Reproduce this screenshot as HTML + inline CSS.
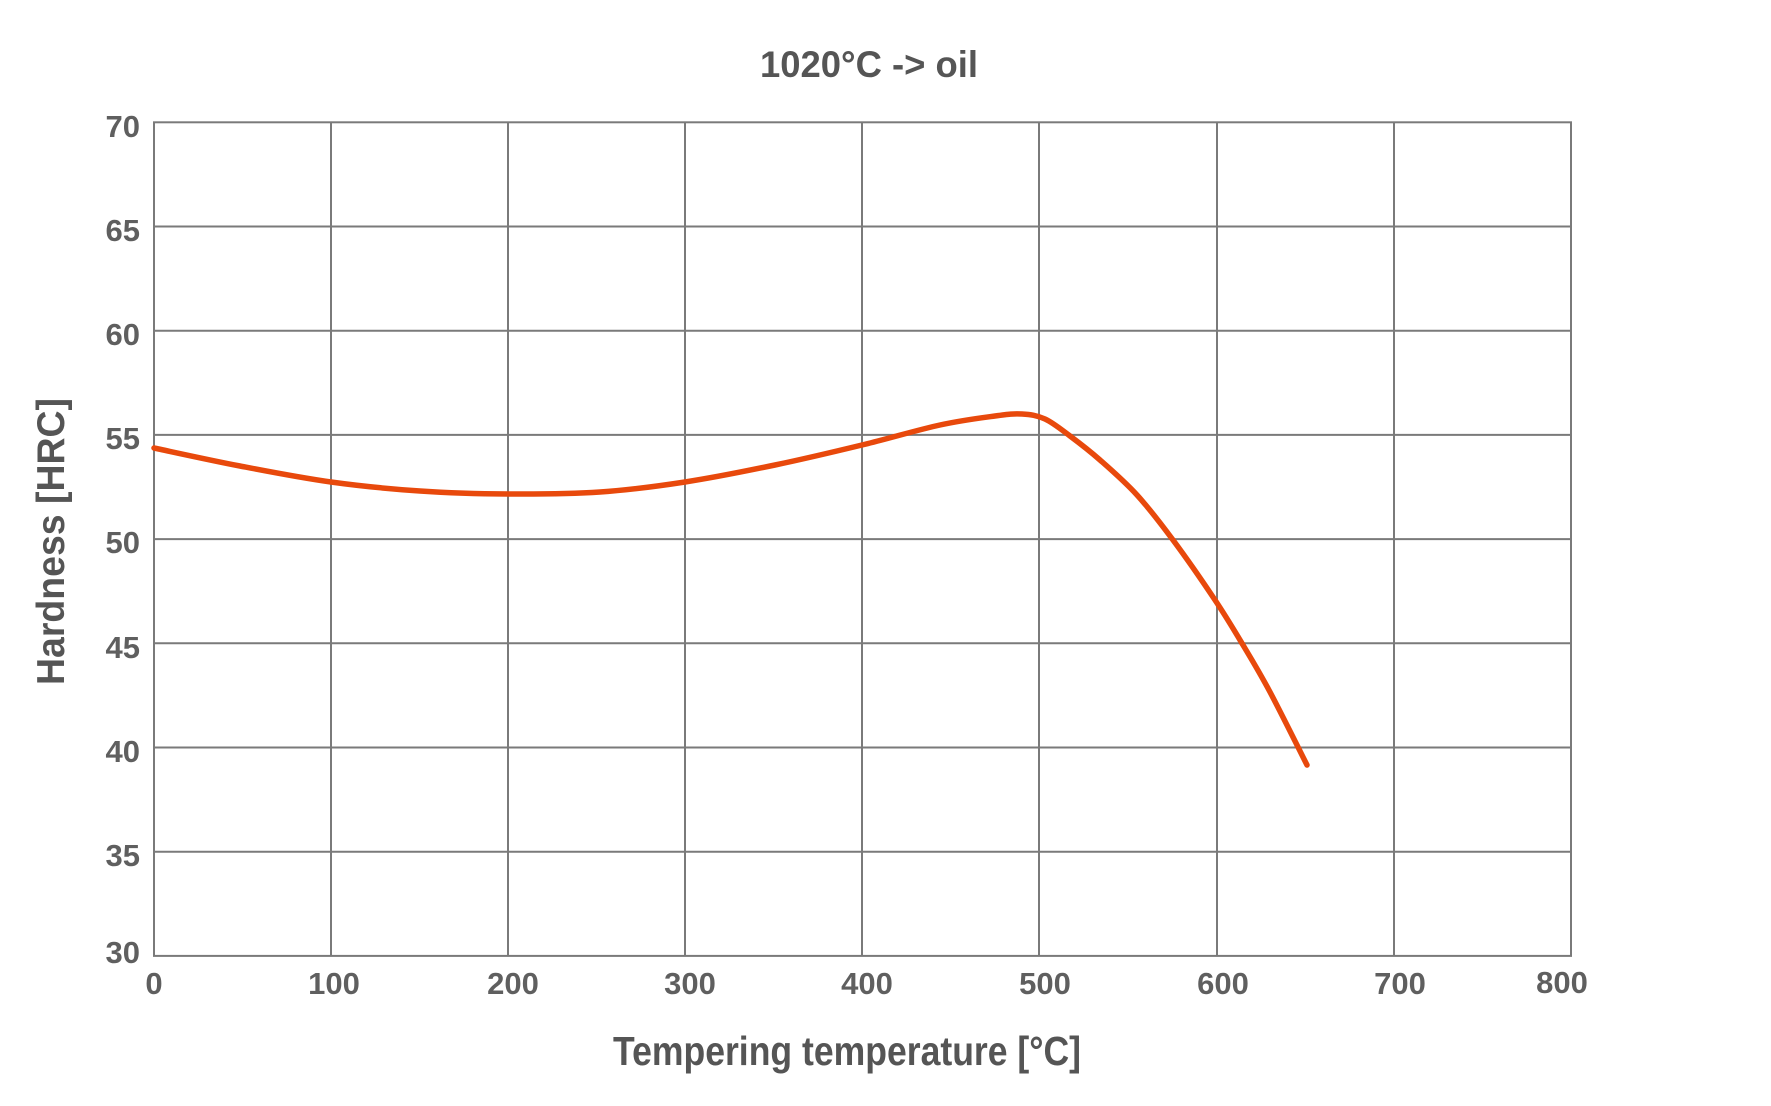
<!DOCTYPE html>
<html><head><meta charset="utf-8"><style>
html,body{margin:0;padding:0;background:#fff;}
svg{display:block}
text{font-family:"Liberation Sans",sans-serif;}
</style></head><body>
<svg width="1771" height="1106" viewBox="0 0 1771 1106" xmlns="http://www.w3.org/2000/svg">
<g stroke="#7a7a7a" stroke-width="2" fill="none">
<line x1="331" y1="122" x2="331" y2="956"/><line x1="508" y1="122" x2="508" y2="956"/>
<line x1="685" y1="122" x2="685" y2="956"/><line x1="862" y1="122" x2="862" y2="956"/>
<line x1="1039" y1="122" x2="1039" y2="956"/><line x1="1217" y1="122" x2="1217" y2="956"/>
<line x1="1394" y1="122" x2="1394" y2="956"/>
<line x1="154" y1="226.5" x2="1571" y2="226.5"/><line x1="154" y1="330.7" x2="1571" y2="330.7"/>
<line x1="154" y1="434.9" x2="1571" y2="434.9"/><line x1="154" y1="539.1" x2="1571" y2="539.1"/>
<line x1="154" y1="643.3" x2="1571" y2="643.3"/><line x1="154" y1="747.5" x2="1571" y2="747.5"/>
<line x1="154" y1="851.7" x2="1571" y2="851.7"/>
<rect x="154" y="122.3" width="1417" height="833.6"/>
</g>
<path id="c" fill="none" stroke="#e8490c" stroke-width="5.5" stroke-linecap="round" d=""/>
<g fill="#5f5f5f" font-size="31" font-weight="bold" text-anchor="end">
<text x="140" y="137">70</text><text x="140" y="241">65</text><text x="140" y="345">60</text>
<text x="140" y="449">55</text><text x="140" y="553">50</text><text x="140" y="658">45</text>
<text x="140" y="762">40</text><text x="140" y="866">35</text><text x="140" y="963">30</text>
</g>
<g fill="#5f5f5f" font-size="31" font-weight="bold" text-anchor="middle">
<text x="154" y="994">0</text><text x="334" y="994">100</text><text x="513" y="994">200</text>
<text x="690" y="994">300</text><text x="867" y="994">400</text><text x="1045" y="994">500</text>
<text x="1223" y="994">600</text><text x="1400" y="994">700</text><text x="1562" y="993">800</text>
</g>
<text x="760" y="77" font-size="37" font-weight="bold" fill="#555" textLength="218" lengthAdjust="spacingAndGlyphs">1020°C -&gt; oil</text>
<text x="613" y="1065" font-size="41" font-weight="bold" fill="#555" textLength="468" lengthAdjust="spacingAndGlyphs">Tempering temperature [°C]</text>
<text transform="translate(64,685) rotate(-90)" font-size="39" font-weight="bold" fill="#555" textLength="287" lengthAdjust="spacingAndGlyphs">Hardness [HRC]</text>
</svg>
<script>
var p=[[154,448],[240,466],[331,482],[420,491],[508,494],[600,492],[685,482],[775,465],[862,445],[940,425],[995,416],[1022,414],[1045,419],[1070,436],[1100,460],[1137,495],[1173,540],[1215,600],[1243,645],[1270,692],[1307,765]];
var d="M"+p[0][0]+","+p[0][1];
for(var i=0;i<p.length-1;i++){var a=p[i-1]||p[i],b=p[i],c=p[i+1],e=p[i+2]||c;
d+=" C"+(b[0]+(c[0]-a[0])/6)+","+(b[1]+(c[1]-a[1])/6)+" "+(c[0]-(e[0]-b[0])/6)+","+(c[1]-(e[1]-b[1])/6)+" "+c[0]+","+c[1];}
document.getElementById("c").setAttribute("d",d);
</script>
</body></html>
